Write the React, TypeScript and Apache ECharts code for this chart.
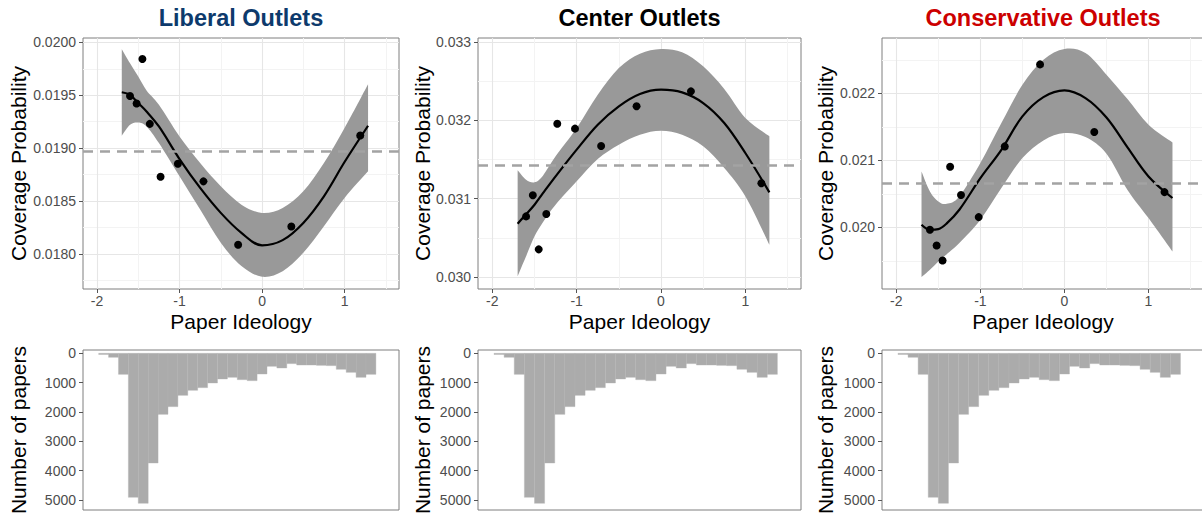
import { useEffect, useRef } from "react";
import * as echarts from "echarts";

// ---------- DATA ----------
const PANEL_TITLES = ["Liberal Outlets", "Center Outlets", "Conservative Outlets"];
const TITLE_COLORS = ["#0d3a6c", "#000000", "#cc0000"];

// Paper ideology of the binned points (shared by the three panels)
const IDEOLOGY = [-1.6, -1.52, -1.45, -1.36, -1.23, -1.02, -0.71, -0.29, 0.355, 1.19];
const LIB_POINTS = [0.019493, 0.019421, 0.019842, 0.019229, 0.018729, 0.018852, 0.018685, 0.018085, 0.018258, 0.019119];
const CEN_POINTS = [0.030774, 0.031043, 0.030353, 0.030804, 0.031957, 0.031894, 0.031672, 0.032179, 0.03237, 0.031196];
const CON_POINTS = [0.019965, 0.019731, 0.019507, 0.020905, 0.020483, 0.020154, 0.021209, 0.022433, 0.021423, 0.020527];

// Smooth fit and its confidence band, read at these ideology values
const FIT_X = [-1.7, -1.6, -1.5, -1.4, -1.25, -1.0, -0.75, -0.5, -0.25, 0, 0.25, 0.5, 0.75, 1.0, 1.285];
const LIB_FIT = [0.019528, 0.019503, 0.019425, 0.019346, 0.019204, 0.018896, 0.018623, 0.018387, 0.018198, 0.018079, 0.018129, 0.018292, 0.018544, 0.018868, 0.019211];
const LIB_LO = [0.019116, 0.01922, 0.019242, 0.019204, 0.019047, 0.018733, 0.018418, 0.018104, 0.017884, 0.017783, 0.017836, 0.018009, 0.018261, 0.018528, 0.01878];
const LIB_HI = [0.019934, 0.019802, 0.019676, 0.019545, 0.019409, 0.01911, 0.018858, 0.018638, 0.018465, 0.018387, 0.018434, 0.018591, 0.018858, 0.019189, 0.019604];
const CEN_FIT = [0.030681, 0.0308, 0.030923, 0.03107, 0.031285, 0.031626, 0.031945, 0.032179, 0.032336, 0.032391, 0.032357, 0.032221, 0.031966, 0.031583, 0.031081];
const CEN_LO = [0.030009, 0.030264, 0.030519, 0.0307, 0.030923, 0.031221, 0.031506, 0.031689, 0.031817, 0.031868, 0.031817, 0.031668, 0.031391, 0.03103, 0.030413];
const CEN_HI = [0.031362, 0.031243, 0.031209, 0.031294, 0.03154, 0.031902, 0.032328, 0.032668, 0.032851, 0.032911, 0.032868, 0.032689, 0.0324, 0.03203, 0.031796];
const CON_FIT = [0.02004, 0.019965, 0.019975, 0.02006, 0.020264, 0.020736, 0.021159, 0.021657, 0.021945, 0.022045, 0.02193, 0.02164, 0.021195, 0.020761, 0.020439];
const CON_LO = [0.019259, 0.019368, 0.019493, 0.0196, 0.019766, 0.020114, 0.020587, 0.021035, 0.021299, 0.021408, 0.021348, 0.0211, 0.02056, 0.020139, 0.019642];
const CON_HI = [0.020836, 0.020537, 0.020388, 0.020353, 0.020463, 0.02096, 0.021557, 0.022129, 0.022502, 0.022662, 0.022602, 0.022279, 0.021915, 0.021532, 0.021269];

// Overall mean coverage (dashed reference line)
const MEANS = [0.018968, 0.031421, 0.020652];

// Axis ticks
const X_TICKS = [-2, -1, 0, 1];
const X_MINOR = [-1.5, -0.5, 0.5, 1.5];
const LIB_Y_TICKS = [0.018, 0.0185, 0.019, 0.0195, 0.02];
const LIB_Y_MINOR = [0.01775, 0.01825, 0.01875, 0.01925, 0.01975];
const CEN_Y_TICKS = [0.03, 0.031, 0.032, 0.033];
const CEN_Y_MINOR = [0.0305, 0.0315, 0.0325];
const CON_Y_TICKS = [0.02, 0.021, 0.022];
const CON_Y_MINOR = [0.0195, 0.0205, 0.0215, 0.0225];
const Y_DECIMALS = [4, 3, 3];

// Histogram of papers by ideology
const BIN_EDGES = [-1.98, -1.86, -1.74, -1.62, -1.5, -1.38, -1.26, -1.14, -1.02, -0.9, -0.78, -0.66, -0.54, -0.42, -0.3, -0.18, -0.06, 0.06, 0.18, 0.3, 0.42, 0.54, 0.66, 0.78, 0.9, 1.02, 1.14, 1.26, 1.38];
const BIN_COUNTS = [40, 136, 716, 4909, 5114, 3739, 2080, 1818, 1432, 1261, 1170, 1011, 875, 818, 898, 932, 705, 443, 500, 352, 398, 398, 410, 420, 545, 648, 818, 716];
const COUNT_TICKS = [0, 1000, 2000, 3000, 4000, 5000];

// ---------- LAYOUT / STYLE ----------
const FONT = '"Liberation Sans", Arial, Helvetica, sans-serif';
const X_RANGE = [-2.17, 1.66];
const Y_RANGES = [
  [0.017667, 0.020041],
  [0.029847, 0.033051],
  [0.019081, 0.022827],
];
const COUNT_RANGE = [-113, 5341];
const PANEL_LEFT = [83, 478, 882];
const PANEL_W = [316, 323, 322];
const TOP_Y = 38;
const TOP_H = 251;
const BOT_Y = 350;
const BOT_H = 160;
const YNAME_X = [18.5, 422, 825.5];
const BORDER = "#7f7f7f";
const RIBBON = "#999999";
const MAJOR = "#e6e6e6";
const MINOR = "#f3f3f3";

function catmull(p: number[][]): string {
  let d = "";
  for (let i = 0; i < p.length - 1; i++) {
    const p0 = p[Math.max(i - 1, 0)];
    const p1 = p[i];
    const p2 = p[i + 1];
    const p3 = p[Math.min(i + 2, p.length - 1)];
    const c1x = p1[0] + (p2[0] - p0[0]) / 6;
    const c1y = p1[1] + (p2[1] - p0[1]) / 6;
    const c2x = p2[0] - (p3[0] - p1[0]) / 6;
    const c2y = p2[1] - (p3[1] - p1[1]) / 6;
    d += ` C ${c1x} ${c1y} ${c2x} ${c2y} ${p2[0]} ${p2[1]}`;
  }
  return d;
}

export default function App() {
  const ref = useRef<HTMLDivElement>(null);

  useEffect(() => {
    if (!ref.current) return;
    const chart = echarts.init(ref.current, null, { renderer: "svg", width: 1202, height: 517 });

    const points = [LIB_POINTS, CEN_POINTS, CON_POINTS];
    const fits = [LIB_FIT, CEN_FIT, CON_FIT];
    const los = [LIB_LO, CEN_LO, CON_LO];
    const his = [LIB_HI, CEN_HI, CON_HI];
    const yTicks = [LIB_Y_TICKS, CEN_Y_TICKS, CON_Y_TICKS];
    const yMinor = [LIB_Y_MINOR, CEN_Y_MINOR, CON_Y_MINOR];

    const grid: any[] = [];
    const xAxis: any[] = [];
    const yAxis: any[] = [];
    const series: any[] = [];
    const graphic: any[] = [];

    const labelStyle = { color: "#4d4d4d", fontSize: 14, fontFamily: FONT };
    const tickStyle = { show: true, length: 4, lineStyle: { color: "#555555", width: 1 } };
    const noLine = { show: false, onZero: false };

    for (let i = 0; i < 3; i++) {
      grid.push({
        left: PANEL_LEFT[i], top: TOP_Y, width: PANEL_W[i], height: TOP_H,
        show: true, borderColor: BORDER, borderWidth: 1, backgroundColor: "transparent",
        containLabel: false, outerBoundsMode: "none",
      });
    }
    for (let i = 0; i < 3; i++) {
      grid.push({
        left: PANEL_LEFT[i], top: BOT_Y, width: PANEL_W[i], height: BOT_H,
        show: true, borderColor: BORDER, borderWidth: 1, backgroundColor: "transparent",
        containLabel: false, outerBoundsMode: "none",
      });
    }

    for (let i = 0; i < 3; i++) {
      xAxis.push({
        type: "value", gridIndex: i, min: X_RANGE[0], max: X_RANGE[1], position: "bottom",
        axisLine: noLine,
        axisTick: { ...tickStyle, customValues: X_TICKS },
        axisLabel: { ...labelStyle, margin: 5, customValues: X_TICKS, formatter: (v: number) => String(v) },
        splitLine: { show: false },
      });
      const dec = Y_DECIMALS[i];
      yAxis.push({
        type: "value", gridIndex: i, min: Y_RANGES[i][0], max: Y_RANGES[i][1], position: "left",
        axisLine: noLine,
        axisTick: { ...tickStyle, customValues: yTicks[i] },
        axisLabel: { ...labelStyle, margin: 7, customValues: yTicks[i], formatter: (v: number) => v.toFixed(dec) },
        splitLine: { show: false },
      });
    }
    for (let i = 0; i < 3; i++) {
      xAxis.push({
        type: "value", gridIndex: 3 + i, min: X_RANGE[0], max: X_RANGE[1], position: "bottom",
        axisLine: noLine, axisTick: { show: false }, axisLabel: { show: false },
        splitLine: { show: false },
      });
      yAxis.push({
        type: "value", gridIndex: 3 + i, min: COUNT_RANGE[0], max: COUNT_RANGE[1], inverse: true, position: "left",
        axisLine: noLine,
        axisTick: { ...tickStyle, customValues: COUNT_TICKS },
        axisLabel: { ...labelStyle, margin: 7, customValues: COUNT_TICKS, formatter: (v: number) => String(v) },
        splitLine: { show: false },
      });
    }

    for (let i = 0; i < 3; i++) {
      const lo = los[i];
      const hi = his[i];
      const gl: any[] = [];
      yTicks[i].forEach((v) => gl.push({ yAxis: v, lineStyle: { color: MAJOR, width: 1.1, type: "solid" } }));
      yMinor[i].forEach((v) => gl.push({ yAxis: v, lineStyle: { color: MINOR, width: 1, type: "solid" } }));
      X_TICKS.forEach((v) => gl.push({ xAxis: v, lineStyle: { color: MAJOR, width: 1.1, type: "solid" } }));
      X_MINOR.forEach((v) => gl.push({ xAxis: v, lineStyle: { color: MINOR, width: 1, type: "solid" } }));

      // grid lines
      series.push({
        type: "line", xAxisIndex: i, yAxisIndex: i, data: [], z: 0, silent: true,
        markLine: { z: 0, precision: 10, silent: true, symbol: ["none", "none"], label: { show: false }, animation: false, data: gl },
      });

      // confidence ribbon
      series.push({
        type: "custom", xAxisIndex: i, yAxisIndex: i, z: 2, silent: true,
        data: FIT_X.map((x, k) => [x, lo[k], hi[k]]),
        encode: { x: 0, y: [1, 2] },
        renderItem: (params: any, api: any) => {
          if (params.dataIndex !== 0) return null;
          const up = FIT_X.map((x, k) => api.coord([x, hi[k]]));
          const dn = FIT_X.map((x, k) => api.coord([x, lo[k]])).reverse();
          const d = `M ${up[0][0]} ${up[0][1]}${catmull(up)} L ${dn[0][0]} ${dn[0][1]}${catmull(dn)} Z`;
          return { type: "path", shape: { pathData: d }, style: { fill: RIBBON, stroke: null } };
        },
      });

      // fit line
      series.push({
        type: "line", xAxisIndex: i, yAxisIndex: i, z: 3, silent: true,
        data: FIT_X.map((x, k) => [x, fits[i][k]]),
        smooth: 0.35, symbol: "none", showSymbol: false,
        lineStyle: { color: "#000000", width: 2.2, opacity: 1 },
      });

      // mean dashed line
      series.push({
        type: "line", xAxisIndex: i, yAxisIndex: i, data: [], z: 4, silent: true,
        markLine: {
          z: 4, precision: 10, silent: true, symbol: ["none", "none"], label: { show: false }, animation: false,
          data: [{ yAxis: MEANS[i] }],
          lineStyle: { color: "#a3a3a3", width: 2.5, type: [10, 7] },
        },
      });

      // points
      series.push({
        type: "scatter", xAxisIndex: i, yAxisIndex: i, z: 6, silent: true,
        data: IDEOLOGY.map((x, k) => [x, points[i][k]]),
        symbolSize: 8, itemStyle: { color: "#000000", opacity: 1 },
      });

      // histogram
      series.push({
        type: "custom", xAxisIndex: 3 + i, yAxisIndex: 3 + i, z: 2, silent: true,
        data: BIN_COUNTS.map((c, k) => [BIN_EDGES[k], BIN_EDGES[k + 1], c]),
        encode: { x: [0, 1], y: 2 },
        renderItem: (params: any, api: any) => {
          const p0 = api.coord([api.value(0), 0]);
          const p1 = api.coord([api.value(1), api.value(2)]);
          return {
            type: "rect",
            shape: { x: p0[0], y: Math.min(p0[1], p1[1]), width: p1[0] - p0[0], height: Math.abs(p1[1] - p0[1]) },
            style: { fill: "#ababab", stroke: "#b3b3b3", lineWidth: 0.4 },
          };
        },
      });

      const cx = PANEL_LEFT[i] + PANEL_W[i] / 2;
      graphic.push({
        type: "text", x: Math.min(cx, 1043), y: 18,
        style: { text: PANEL_TITLES[i], fill: TITLE_COLORS[i], fontFamily: FONT, fontSize: 23.5, fontWeight: "bold", align: "center", verticalAlign: "middle" },
      });
      graphic.push({
        type: "text", x: cx, y: 321,
        style: { text: "Paper Ideology", fill: "#000000", fontFamily: FONT, fontSize: 21, align: "center", verticalAlign: "middle" },
      });
      graphic.push({
        type: "text", x: YNAME_X[i], y: TOP_Y + TOP_H / 2, rotation: Math.PI / 2,
        style: { text: "Coverage Probability", fill: "#000000", fontFamily: FONT, fontSize: 21, align: "center", verticalAlign: "middle" },
      });
      graphic.push({
        type: "text", x: YNAME_X[i], y: BOT_Y + BOT_H / 2, rotation: Math.PI / 2,
        style: { text: "Number of papers", fill: "#000000", fontFamily: FONT, fontSize: 21, align: "center", verticalAlign: "middle" },
      });
    }

    chart.setOption({
      animation: false,
      backgroundColor: "#ffffff",
      textStyle: { fontFamily: FONT },
      grid, xAxis, yAxis, series, graphic,
    });

    return () => chart.dispose();
  }, []);

  return <div ref={ref} style={{ position: "absolute", left: 0, top: 0, width: 1202, height: 517 }} />;
}
